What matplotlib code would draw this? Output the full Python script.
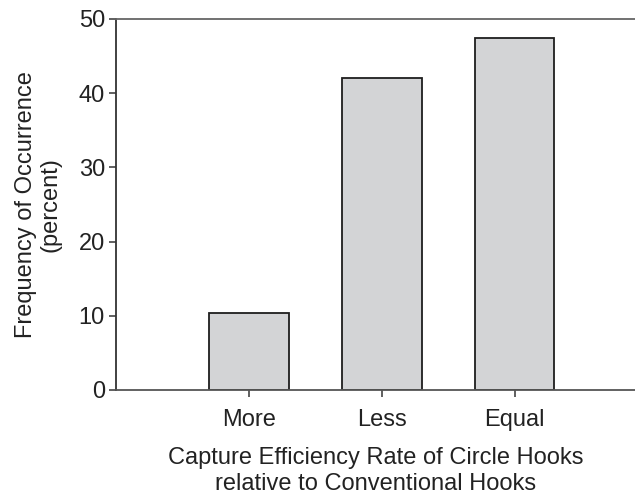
import matplotlib
matplotlib.use("Agg")
import matplotlib.pyplot as plt

categories = ["More", "Less", "Equal"]
values = [10.4, 42.0, 47.5]
yticks = [0, 10, 20, 30, 40, 50]

plt.rcParams['font.family'] = ['Liberation Sans', 'DejaVu Sans']

fig = plt.figure(figsize=(6.35, 4.95), dpi=100)
ax = fig.add_axes([116/635, 105/495, 1 - 116/635, (390-19)/495])

x = list(range(len(categories)))
ax.bar(x, values, width=0.6, color='#d3d4d6', edgecolor='#1e1e1e', linewidth=1.3)

ax.set_xlim(-1, 2.906)
ax.set_ylim(0, 50)
ax.set_xticks(x)
ax.set_xticklabels(categories, fontsize=17, color='#222222')
ax.set_yticks(yticks)
ax.set_yticklabels([str(v) for v in yticks], fontsize=17, color='#222222')
ax.tick_params(axis='both', direction='out', length=5, width=1.2, color='#444444')
ax.tick_params(axis='y', pad=3)
ax.tick_params(axis='x', pad=8.5)

ax.spines['right'].set_visible(False)
ax.spines['top'].set_color('#666666')
ax.spines['bottom'].set_color('#555555')
ax.spines['left'].set_color('#333333')
for s in ['top', 'bottom', 'left']:
    ax.spines[s].set_linewidth(1.3)

ax.set_ylabel("Frequency of Occurrence\n(percent)", fontsize=17, color='#222222', labelpad=12, linespacing=1.15)
ax.set_xlabel("Capture Efficiency Rate of Circle Hooks\nrelative to Conventional Hooks", fontsize=17, color='#222222', labelpad=12, linespacing=1.22)

fig.savefig("out.png", dpi=100)
